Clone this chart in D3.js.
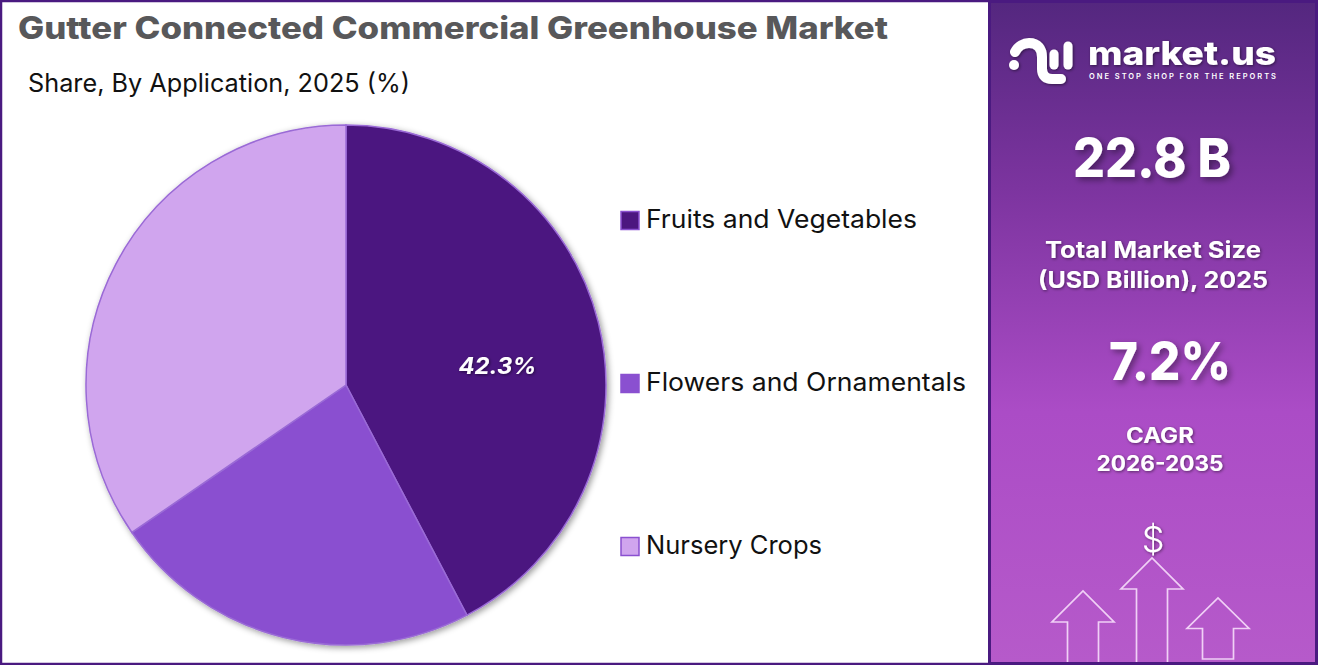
<!DOCTYPE html>
<html><head><meta charset="utf-8">
<script src="https://cdn.jsdelivr.net/npm/d3@7"></script>
<style>html,body{margin:0;padding:0;background:#fff;overflow:hidden}svg{display:block}text{font-family:Inter,"Noto Sans",sans-serif}</style>
</head><body><svg id="c" width="1318" height="665"></svg>
<script>
const categories=["Fruits and Vegetables","Flowers and Ornamentals","Nursery Crops"];
const shares=[42.3,23.1,34.6];
const colors=["#4c1780","#8a50d0","#d0a5ee"];
const valueLabels=["42.3%",null,null];
const titleText="Gutter Connected Commercial Greenhouse Market";
const subtitleText="Share, By Application, 2025 (%)";

const svg=d3.select("#c");
const defs=svg.append("defs");
const g=defs.append("linearGradient").attr("id","panel").attr("x1",0).attr("y1",0).attr("x2",0).attr("y2",1);
[[0,"#54277f"],[0.28,"#7c349f"],[0.62,"#ab4cc6"],[1,"#b65aca"]].forEach(s=>g.append("stop").attr("offset",s[0]).attr("stop-color",s[1]));
const sh=(id,dx,dy,b,o)=>{const f=defs.append("filter").attr("id",id).attr("x","-30%").attr("y","-30%").attr("width","160%").attr("height","160%");
 f.append("feDropShadow").attr("dx",dx).attr("dy",dy).attr("stdDeviation",b).attr("flood-color","#000").attr("flood-opacity",o);};
sh("pieS",2,2,3,0.4);sh("txtS",3,3,3,0.4);sh("lblS",1,1,1.5,0.5);

svg.append("rect").attr("x",1).attr("y",1).attr("width",1316).attr("height",663).attr("fill","#fff").attr("stroke","#4a1a80").attr("stroke-width",2.5);
svg.append("rect").attr("x",988).attr("y",0).attr("width",330).attr("height",665).attr("fill","#4a1a80");
svg.append("rect").attr("x",991).attr("y",3).attr("width",324).attr("height",659).attr("fill","url(#panel)");

const T=(x,y,t,size,weight,fill,len,anchor,adjust)=>{const e=svg.append("text").attr("x",x).attr("y",y).text(t).attr("font-size",size).attr("font-weight",weight).attr("fill",fill).attr("text-anchor",anchor||"start");
 if(len)e.attr("textLength",len).attr("lengthAdjust",adjust||"spacingAndGlyphs");return e;};
T(18,39,titleText,31,800,"#58585a",870);
T(28,92,subtitleText,25,400,"#111",382);

const pie=d3.pie().sort(null).value(d=>d);
const radius=260;
const arc=d3.arc().innerRadius(0).outerRadius(radius);
const pg=svg.append("g").attr("transform","translate(346,385)").attr("filter","url(#pieS)");
pg.selectAll("path").data(pie(shares)).join("path").attr("d",arc).attr("fill",(d,i)=>colors[i]).attr("stroke","#9a6ad6").attr("stroke-width",1.5);
const lr=d3.arc().innerRadius(radius*0.6).outerRadius(radius*0.6);
svg.append("g").attr("transform","translate(346,385)").selectAll("text").data(pie(shares).filter((d,i)=>valueLabels[i])).join("text")
 .attr("x",d=>lr.centroid(d)[0]).attr("y",d=>lr.centroid(d)[1]).attr("text-anchor","middle").attr("dy",26)
 .text(d=>valueLabels[d.index]).attr("font-size",23).attr("font-weight",700).attr("font-style","italic").attr("fill","#fff").attr("filter","url(#lblS)")
 .attr("textLength",78).attr("lengthAdjust","spacingAndGlyphs");

const ly=d3.scalePoint().domain(categories).range([220.5,546.5]);
const widths=[271,320,176];
const lg=svg.append("g").selectAll("g").data(categories).join("g").attr("transform",d=>`translate(0,${ly(d)})`);
lg.append("rect").attr("x",621).attr("y",-9).attr("width",18).attr("height",18).attr("fill",(d,i)=>colors[i]).attr("stroke","#8a50d0").attr("stroke-width",1.5);
lg.append("text").attr("x",646).attr("y",7).text(d=>d).attr("font-size",25).attr("fill","#111").attr("textLength",(d,i)=>widths[i]).attr("lengthAdjust","spacingAndGlyphs");

// logo
const logo=svg.append("g").attr("filter","url(#lblS)");
logo.append("circle").attr("cx",1014).attr("cy",65).attr("r",5).attr("fill","#fff");
logo.append("path").attr("d","M1015 52 c3 -6 9 -9 14 -9 c9 0 13 6 13 14 v12 c0 7 4 10 10 10 h9").attr("fill","none").attr("stroke","#fff").attr("stroke-width",10).attr("stroke-linecap","round");
logo.append("path").attr("d","M1054 54 v11").attr("stroke","#fff").attr("stroke-width",9).attr("stroke-linecap","round");
logo.append("path").attr("d","M1068 46 v19").attr("stroke","#fff").attr("stroke-width",9).attr("stroke-linecap","round");
T(1088,65,"market.us",33,800,"#fff",188).attr("filter","url(#lblS)");
T(1089,79,"ONE STOP SHOP FOR THE REPORTS",7.5,600,"#fff",187,"start","spacing");

T(1152,177,"22.8 B",53,800,"#fff",158,"middle").attr("filter","url(#txtS)");
T(1153,258,"Total Market Size",23,700,"#fff",216,"middle").attr("filter","url(#lblS)");
T(1153,288,"(USD Billion), 2025",23,700,"#fff",230,"middle").attr("filter","url(#lblS)");
T(1170,380,"7.2%",52,800,"#fff",122,"middle").attr("filter","url(#txtS)");
T(1160,443,"CAGR",21,700,"#fff",68,"middle").attr("filter","url(#lblS)");
T(1160,471,"2026-2035",21,700,"#fff",127,"middle").attr("filter","url(#lblS)");
T(1153,552,"$",36,300,"#fff",null,"middle").attr("filter","url(#lblS)");

const arrow=(tx,ty,wy,bot,closed)=>{const p=d3.path();p.moveTo(tx-15.5,bot);p.lineTo(tx-15.5,wy);p.lineTo(tx-31,wy);p.lineTo(tx,ty);p.lineTo(tx+31,wy);p.lineTo(tx+15.5,wy);p.lineTo(tx+15.5,bot);if(closed)p.closePath();
 svg.append("path").attr("d",p.toString()).attr("fill","none").attr("stroke","#f0d0f6").attr("stroke-width",1.7);};
arrow(1083,591,622,662,false);arrow(1152,558,589,662,false);arrow(1218,598,628.5,659,true);
</script></body></html>
